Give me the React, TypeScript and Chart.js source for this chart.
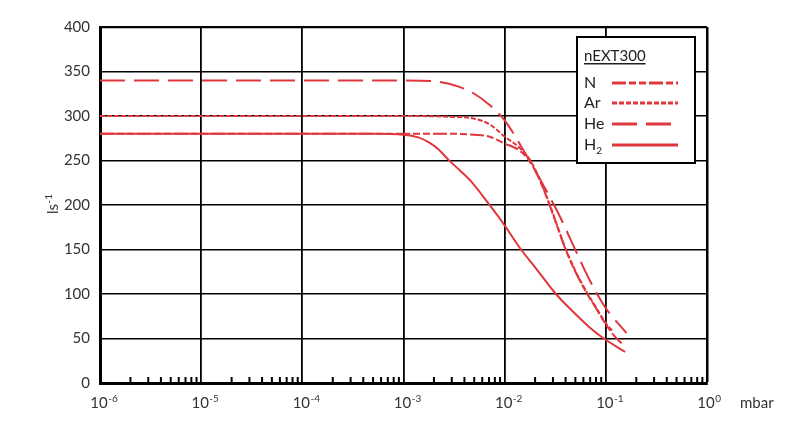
import { useEffect, useRef } from 'react'
import { Chart, registerables } from 'chart.js'

Chart.register(...registerables)

const RED = '#e0363d'
const TEXT = '#333333'
const FONT = 'Lato'

// pumping speed curves (pressure in mbar, speed in l/s)
const seriesLabels = ['N', 'Ar', 'He', 'H2']

const nPressure = [1e-6, 1e-3, 3e-3, 5e-3, 7e-3, 0.01, 0.0141, 0.0177, 0.022, 0.0284, 0.034, 0.04, 0.05, 0.0655, 0.08, 0.1, 0.123, 0.145]
const nSpeed = [280, 280, 280, 279, 277, 269, 261, 249, 229, 197, 172, 150, 125, 100, 84, 66, 52, 44]

const arPressure = [1e-6, 1e-3, 3e-3, 5e-3, 7e-3, 0.01, 0.0141, 0.0177, 0.022, 0.0284, 0.034, 0.04, 0.05, 0.0655, 0.08, 0.1, 0.115]
const arSpeed = [300, 300, 299, 297, 291, 277, 264, 251, 230, 198, 173, 151, 126, 101, 85, 67, 59]

const hePressure = [1e-6, 1e-3, 2e-3, 3.5e-3, 5e-3, 7e-3, 0.01, 0.0158, 0.0231, 0.0338, 0.0475, 0.0668, 0.0973, 0.16]
const heSpeed = [340, 340, 339, 333, 325, 313, 295, 259, 226, 191, 155, 119, 86, 56]

const h2Pressure = [1e-6, 5e-4, 1e-3, 1.4e-3, 1.75e-3, 2.2e-3, 2.77e-3, 3.6e-3, 4.7e-3, 6.88e-3, 0.01, 0.0141, 0.02, 0.0321, 0.0475, 0.0683, 0.0955, 0.155]
const h2Speed = [280, 280, 279, 276, 271, 263, 251, 239, 226, 202, 177, 152, 130, 100, 80, 63, 50, 35]

const seriesDashes = [[14, 3, 7, 3, 7, 3], [5, 2], [25, 9], []]

const xDecades = [-6, -5, -4, -3, -2, -1, 0]
const xUnit = 'mbar'
const yMin = 0
const yMax = 400
const yStep = 50
const yUnit = 'ls'
const yUnitExp = '-1'
const legendTitle = 'nEXT300'

const isDecade = (v: number) => Math.abs(Math.log10(v) - Math.round(Math.log10(v))) < 1e-6
const isWholeMantissa = (v: number) => {
  const m = v / Math.pow(10, Math.floor(Math.log10(v) + 1e-9))
  return Math.abs(m - Math.round(m)) < 1e-6
}

const toPoints = (xs: number[], ys: number[]) => xs.map((x, i) => ({ x, y: ys[i] }))

const decorPlugin = {
  id: 'decor',
  afterDraw(chart: any) {
    const { ctx, chartArea } = chart
    const xs = chart.scales.x
    const { left, right, top, bottom } = chartArea
    ctx.save()

    // minor ticks standing up from the bottom axis
    ctx.strokeStyle = '#000'
    ctx.lineWidth = 2
    xs.ticks.forEach((t: any) => {
      if (isDecade(t.value)) return
      const px = xs.getPixelForValue(t.value)
      ctx.beginPath()
      ctx.moveTo(px, bottom)
      ctx.lineTo(px, bottom - 6)
      ctx.stroke()
    })

    // decade labels with superscript exponents
    ctx.fillStyle = TEXT
    ctx.textBaseline = 'alphabetic'
    xDecades.forEach((e) => {
      const px = xs.getPixelForValue(Math.pow(10, e)) - 1
      ctx.font = `15px ${FONT}`
      ctx.textAlign = 'center'
      ctx.fillText('10', px, bottom + 25)
      const w = ctx.measureText('10').width
      ctx.font = `10px ${FONT}`
      ctx.textAlign = 'left'
      ctx.fillText(e === 0 ? '0' : '-' + Math.abs(e), px + w / 2 + 0.5, bottom + 19)
    })
    ctx.font = `15px ${FONT}`
    ctx.textAlign = 'left'
    ctx.fillText(xUnit, right + 33, bottom + 25)

    // y unit, rotated
    ctx.save()
    ctx.translate(left - 42, (top + bottom) / 2 + 9)
    ctx.rotate(-Math.PI / 2)
    ctx.font = `15px ${FONT}`
    ctx.fillText(yUnit, 0, 0)
    const uw = ctx.measureText(yUnit).width
    ctx.font = `10px ${FONT}`
    ctx.fillText(yUnitExp, uw + 0.5, -6)
    ctx.restore()

    // legend box
    const bx = right - 130
    const by = top + 10
    const bw = 118
    const bh = 126
    ctx.fillStyle = '#fff'
    ctx.fillRect(bx, by, bw, bh)
    ctx.strokeStyle = '#000'
    ctx.lineWidth = 2
    ctx.strokeRect(bx, by, bw, bh)

    ctx.fillStyle = '#222'
    ctx.font = `15px ${FONT}`
    ctx.textBaseline = 'alphabetic'
    ctx.fillText(legendTitle, bx + 7, by + 24)
    const tw = ctx.measureText(legendTitle).width
    ctx.fillRect(bx + 7, by + 26, tw, 1.5)

    const rowY = [46, 66, 87, 108]
    chart.data.datasets.forEach((ds: any, i: number) => {
      const cy = by + rowY[i]
      const label = String(ds.label)
      const m = label.match(/^(.*?)(\d+)$/)
      ctx.fillStyle = '#222'
      ctx.font = `16px ${FONT}`
      ctx.textBaseline = 'middle'
      if (m) {
        ctx.fillText(m[1], bx + 7, cy)
        const lw = ctx.measureText(m[1]).width
        ctx.font = `10px ${FONT}`
        ctx.fillText(m[2], bx + 7 + lw, cy + 6)
      } else {
        ctx.fillText(label, bx + 7, cy)
      }
      ctx.strokeStyle = ds.borderColor
      ctx.lineWidth = 3
      ctx.setLineDash(ds.borderDash || [])
      ctx.beginPath()
      ctx.moveTo(bx + 35, cy)
      ctx.lineTo(bx + 101, cy)
      ctx.stroke()
      ctx.setLineDash([])
    })

    ctx.restore()
  },
}

export default function App() {
  const canvasRef = useRef<HTMLCanvasElement>(null)
  const chartRef = useRef<Chart | null>(null)

  useEffect(() => {
    document.body.style.margin = '0'
    const canvas = canvasRef.current
    if (!canvas) return
    const ctx = canvas.getContext('2d')
    if (!ctx) return

    if (chartRef.current) chartRef.current.destroy()

    const pressures = [nPressure, arPressure, hePressure, h2Pressure]
    const speeds = [nSpeed, arSpeed, heSpeed, h2Speed]

    chartRef.current = new Chart(ctx, {
      type: 'line',
      data: {
        datasets: seriesLabels.map((label, i) => ({
          label,
          data: toPoints(pressures[i], speeds[i]),
          borderColor: RED,
          borderWidth: 2,
          borderDash: seriesDashes[i],
          pointRadius: 0,
          fill: false,
          cubicInterpolationMode: 'monotone' as const,
        })),
      },
      options: {
        responsive: true,
        maintainAspectRatio: false,
        animation: false,
        layout: { padding: { top: 27, right: 93, left: 0, bottom: 0 } },
        plugins: {
          legend: { display: false },
          tooltip: { enabled: false },
        },
        scales: {
          x: {
            type: 'logarithmic',
            min: 1e-6,
            max: 1,
            afterBuildTicks: (scale: any) => {
              scale.ticks = scale.ticks.filter((t: any) => isWholeMantissa(t.value))
            },
            afterFit: (scale: any) => {
              scale.height = 54
            },
            ticks: { display: false, autoSkip: false },
            grid: {
              drawTicks: false,
              color: (c: any) => (c.tick && isDecade(c.tick.value) ? '#000' : 'rgba(0,0,0,0)'),
              lineWidth: (c: any) => (c.tick && c.tick.value >= 1 ? 2.5 : 1.8),
            },
            border: { display: true, width: 3, color: '#000' },
          },
          y: {
            min: yMin,
            max: yMax,
            afterFit: (scale: any) => {
              scale.width = 100
            },
            ticks: {
              stepSize: yStep,
              color: TEXT,
              padding: 10,
              font: { family: FONT, size: 15 },
            },
            grid: {
              drawTicks: false,
              color: '#000',
              lineWidth: (c: any) => (c.tick && c.tick.value === yMax ? 2.2 : 1.6),
            },
            border: { display: true, width: 3, color: '#000' },
          },
        },
      },
      plugins: [decorPlugin],
    })

    return () => {
      if (chartRef.current) {
        chartRef.current.destroy()
        chartRef.current = null
      }
    }
  }, [])

  return (
    <div style={{ position: 'relative', width: 800, height: 437 }}>
      <canvas ref={canvasRef} />
    </div>
  )
}
